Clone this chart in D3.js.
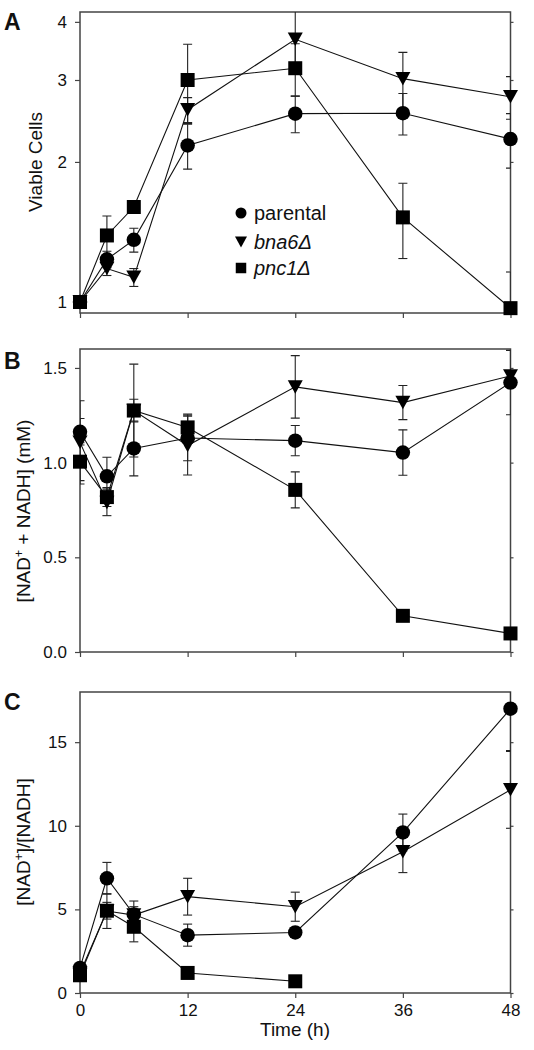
<!DOCTYPE html>
<html>
<head>
<meta charset="utf-8">
<script src="https://cdn.jsdelivr.net/npm/d3@7"></script>
<style>
  html, body { margin: 0; padding: 0; background: #fff; }
  svg { display: block; }
  text { font-family: "Liberation Sans", Arial, sans-serif; fill: #111; }
</style>
</head>
<body>
<svg id="chart" width="534" height="1050"></svg>
<script>
// ---- data ----
const times = [0, 3, 6, 12, 24, 36, 48];
const xTicks = [0, 12, 24, 36, 48];
const seriesNames = ["parental", "bna6Δ", "pnc1Δ"];

// Panel A: viable cells (log scale)
const viableParental = [1, 1.235, 1.36, 2.17, 2.54, 2.545, 2.24];
const viableParentalErr = [0, 0.05, 0.08, 0.24, 0.23, 0.26, 0.30];
const viableBna6 = [1, 1.18, 1.13, 2.59, 3.67, 3.02, 2.76];
const viableBna6Err = [0, 0.04, 0.05, 0.16, 0.55, 0.42, 0.29];
const viablePnc1 = [1, 1.39, 1.60, 3.00, 3.18, 1.52, 0.97];
const viablePnc1Err = [0, 0.14, 0.03, 0.58, 0.41, 0.28, 0.19];
const aTicks = [1, 2, 3, 4];

// Panel B: [NAD+ + NADH] (mM)
const totalParental = [1.163, 0.928, 1.075, 1.13, 1.116, 1.053, 1.423];
const totalParentalErr = [0.07, 0.10, 0.145, 0.12, 0.08, 0.12, 0.17];
const totalBna6 = [1.107, 0.79, 1.275, 1.09, 1.40, 1.317, 1.458];
const totalBna6Err = [0.22, 0.07, 0.245, 0.155, 0.165, 0.09, 0.02];
const totalPnc1 = [1.005, 0.818, 1.275, 1.186, 0.856, 0.191, 0.098];
const totalPnc1Err = [0.10, 0.05, 0.06, 0.07, 0.095, 0.01, 0.01];
const bTicks = [0, 0.5, 1.0, 1.5];

// Panel C: [NAD+]/[NADH]
const ratioParental = [1.5, 6.86, 4.70, 3.46, 3.62, 9.6, 17.0];
const ratioParentalErr = [0.2, 0.95, 0.8, 0.66, 0.3, 1.1, 2.5];
const ratioBna6 = [1.2, 4.9, 4.66, 5.76, 5.16, 8.45, 12.15];
const ratioBna6Err = [0.2, 1.04, 0.5, 1.1, 0.87, 1.25, 2.3];
const ratioPnc1 = [1.06, 4.92, 3.96, 1.2, 0.7, null, null];
const ratioPnc1Err = [0.1, 0.5, 0.9, 0.1, 0.05, null, null];
const cTicks = [0, 5, 10, 15];

// ---- drawing ----
const svg = d3.select("#chart");
const x = d3.scaleLinear().domain([0, 48]).range([80, 510.5]);
const symbols = [d3.symbolCircle, "tri", d3.symbolSquare];

function markerPath(kind, size) {
  if (kind === "tri") {
    const w = size, h = size * 0.9;
    return `M${-w/2},${-h/2}L${w/2},${-h/2}L0,${h/2}Z`;
  }
  if (kind === d3.symbolCircle) return d3.symbol().type(d3.symbolCircle).size(Math.PI * (size/2) * (size/2))();
  return d3.symbol().type(d3.symbolSquare).size(size * size)();
}
const markerSizes = [14.5, 15, 14];

function panel(opts) {
  const { y, ticks, fmt, letter, letterY, series, errs, id, xLabels } = opts;
  const g = svg.append("g");
  const [y0, y1] = y.range();
  const x0 = x.range()[0], x1 = x.range()[1];

  g.append("clipPath").attr("id", id).append("rect")
    .attr("x", x0).attr("y", y1).attr("width", x1 - x0).attr("height", y0 - y1);

  // left axis
  const ax = g.append("g").attr("transform", `translate(${x0},0)`)
    .call(d3.axisLeft(y).tickValues(ticks).tickFormat(fmt).tickSize(5).tickPadding(8).tickSizeOuter(0));
  ax.select(".domain").remove();
  ax.selectAll("line").attr("stroke", "#444").attr("stroke-width", 1.2);
  ax.selectAll("text").style("font-size", "17px").attr("fill", "#111");
  // right mirrored ticks
  const axr = g.append("g").attr("transform", `translate(${x1},0)`)
    .call(d3.axisRight(y).tickValues(ticks).tickFormat("").tickSize(3).tickSizeOuter(0));
  axr.select(".domain").remove();
  axr.selectAll("line").attr("stroke", "#444").attr("stroke-width", 1.2);
  // bottom axis
  const bx = g.append("g").attr("transform", `translate(0,${y0})`)
    .call(d3.axisBottom(x).tickValues(xTicks).tickFormat(xLabels ? d3.format("d") : "").tickSize(5).tickPadding(6).tickSizeOuter(0));
  bx.select(".domain").remove();
  bx.selectAll("line").attr("stroke", "#444").attr("stroke-width", 1.2);
  bx.selectAll("text").style("font-size", "17px").attr("fill", "#111");
  // frame
  g.append("rect").attr("x", x0).attr("y", y1).attr("width", x1 - x0).attr("height", y0 - y1)
    .attr("fill", "none").attr("stroke", "#444").attr("stroke-width", 1.5);

  // panel letter
  g.append("text").attr("x", 4).attr("y", letterY).text(letter)
    .style("font-size", "23px").style("font-weight", "bold");

  // error bars
  const eg = g.append("g").attr("clip-path", `url(#${id})`);
  series.forEach((vals, si) => {
    vals.forEach((v, i) => {
      const e = errs[si][i];
      if (v == null || !e) return;
      const cx = x(times[i]);
      const lo = Math.max(v - e, y.domain()[0] * 0.5 || 0.0001);
      const yt = y(v + e), yb = y(Math.max(lo, 0.0001));
      eg.append("line").attr("x1", cx).attr("x2", cx).attr("y1", yt).attr("y2", yb)
        .attr("stroke", "#222").attr("stroke-width", 1.1);
      [yt, yb].forEach(yy => eg.append("line").attr("x1", cx - 4.5).attr("x2", cx + 4.5)
        .attr("y1", yy).attr("y2", yy).attr("stroke", "#222").attr("stroke-width", 1.1));
    });
  });

  // lines
  const line = d3.line().defined(d => d.v != null).x(d => x(d.t)).y(d => y(d.v));
  series.forEach((vals) => {
    const pts = vals.map((v, i) => ({ t: times[i], v }));
    g.append("path").datum(pts).attr("d", line).attr("fill", "none")
      .attr("stroke", "#111").attr("stroke-width", 1.1);
  });
  // markers
  series.forEach((vals, si) => {
    vals.forEach((v, i) => {
      if (v == null) return;
      g.append("path").attr("d", markerPath(symbols[si], markerSizes[si]))
        .attr("transform", `translate(${x(times[i])},${y(v)})`).attr("fill", "#000");
    });
  });
  return g;
}

// Panel A
const yA = d3.scaleLog().domain([0.947, 4.2]).range([313, 12]);
panel({ y: yA, ticks: aTicks, fmt: d3.format("d"), letter: "A", letterY: 30, id: "clipA",
  series: [viableParental, viableBna6, viablePnc1], errs: [viableParentalErr, viableBna6Err, viablePnc1Err], xLabels: false });
// Panel B
const yB = d3.scaleLinear().domain([0, 1.6]).range([652, 349]);
panel({ y: yB, ticks: bTicks, fmt: d3.format(".1f"), letter: "B", letterY: 369, id: "clipB",
  series: [totalParental, totalBna6, totalPnc1], errs: [totalParentalErr, totalBna6Err, totalPnc1Err], xLabels: false });
// Panel C
const yC = d3.scaleLinear().domain([0, 18]).range([993, 692]);
panel({ y: yC, ticks: cTicks, fmt: d3.format("d"), letter: "C", letterY: 710, id: "clipC",
  series: [ratioParental, ratioBna6, ratioPnc1], errs: [ratioParentalErr, ratioBna6Err, ratioPnc1Err], xLabels: true });

// axis titles
svg.append("text").attr("transform", "translate(42,162) rotate(-90)").attr("text-anchor", "middle")
  .style("font-size", "19px").text("Viable Cells");

const tB = svg.append("text").attr("transform", "translate(30,511) rotate(-90)").attr("text-anchor", "middle")
  .style("font-size", "19px");
tB.append("tspan").text("[NAD");
tB.append("tspan").attr("dy", -7).style("font-size", "12px").text("+");
tB.append("tspan").attr("dy", 7).text(" + NADH] (mM)");

const tC = svg.append("text").attr("transform", "translate(30,842) rotate(-90)").attr("text-anchor", "middle")
  .style("font-size", "19px");
tC.append("tspan").text("[NAD");
tC.append("tspan").attr("dy", -7).style("font-size", "12px").text("+");
tC.append("tspan").attr("dy", 7).text("]/[NADH]");

svg.append("text").attr("x", 295).attr("y", 1036).attr("text-anchor", "middle")
  .style("font-size", "19px").text("Time (h)");

// legend
const legY = [213, 242, 268];
const legSizes = [11, 12, 10.5];
seriesNames.forEach((name, i) => {
  svg.append("path").attr("d", markerPath(symbols[i], legSizes[i]))
    .attr("transform", `translate(241,${legY[i]})`).attr("fill", "#000");
  svg.append("text").attr("x", 254).attr("y", legY[i] + 7)
    .style("font-size", "20px").style("font-style", i === 0 ? "normal" : "italic").text(name);
});
</script>
</body>
</html>
